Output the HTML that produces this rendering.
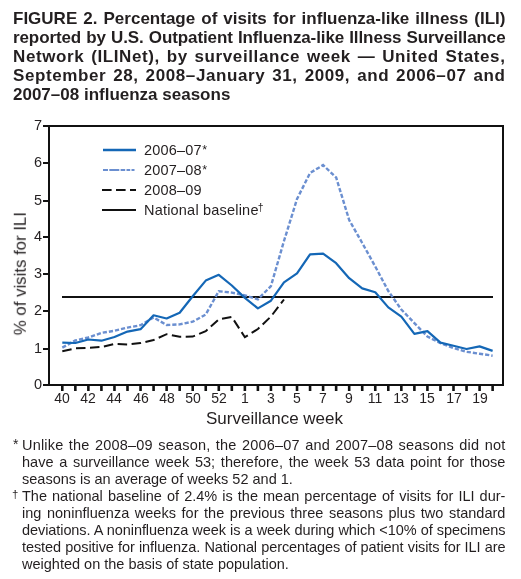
<!DOCTYPE html>
<html><head><meta charset="utf-8"><style>
html,body{margin:0;padding:0;background:#fff;width:521px;height:579px;overflow:hidden}
body{position:relative;font-family:"Liberation Sans",sans-serif;color:#231f20}
.t{position:absolute;white-space:nowrap;will-change:transform}
.ast{font-size:12.5px;position:relative;top:-1.3px;margin-left:0.4px}
.dag{font-size:10.5px;position:relative;top:-4.2px;margin-left:-0.9px}
</style></head><body>
<div class="t" style="left:13px;top:9.13px;font-size:17px;line-height:19.55px;font-weight:bold;width:492.5px;letter-spacing:0px;text-align:justify;text-align-last:justify;">FIGURE 2. Percentage of visits for influenza-like illness (ILI)</div>
<div class="t" style="left:13px;top:27.98px;font-size:17px;line-height:19.55px;font-weight:bold;width:492.5px;letter-spacing:-0.104px;text-align:justify;text-align-last:justify;">reported by U.S. Outpatient Influenza-like Illness Surveillance</div>
<div class="t" style="left:13px;top:46.83px;font-size:17px;line-height:19.55px;font-weight:bold;width:492.5px;letter-spacing:0.6px;text-align:justify;text-align-last:justify;">Network (ILINet), by surveillance week — United States,</div>
<div class="t" style="left:13px;top:65.68px;font-size:17px;line-height:19.55px;font-weight:bold;width:492.5px;letter-spacing:0.6px;text-align:justify;text-align-last:justify;">September 28, 2008–January 31, 2009, and 2006–07 and</div>
<div class="t" style="left:13px;top:84.53px;font-size:17px;line-height:19.55px;font-weight:bold;width:492.5px;letter-spacing:0px;">2007–08 influenza seasons</div>
<div class="t" style="left:21.6px;top:437.24px;font-size:14.5px;line-height:16.67px;font-weight:normal;width:483.4px;letter-spacing:0.2px;text-align:justify;text-align-last:justify;">Unlike the 2008–09 season, the 2006–07 and 2007–08 seasons did not</div>
<div class="t" style="left:21.6px;top:454.24px;font-size:14.5px;line-height:16.67px;font-weight:normal;width:483.4px;letter-spacing:0px;text-align:justify;text-align-last:justify;">have a surveillance week 53; therefore, the week 53 data point for those</div>
<div class="t" style="left:21.6px;top:471.24px;font-size:14.5px;line-height:16.67px;font-weight:normal;width:483.4px;letter-spacing:0px;">seasons is an average of weeks 52 and 1.</div>
<div class="t" style="left:21.6px;top:488.24px;font-size:14.5px;line-height:16.67px;font-weight:normal;width:483.4px;letter-spacing:0px;text-align:justify;text-align-last:justify;">The national baseline of 2.4% is the mean percentage of visits for ILI dur-</div>
<div class="t" style="left:21.6px;top:505.24px;font-size:14.5px;line-height:16.67px;font-weight:normal;width:483.4px;letter-spacing:0px;text-align:justify;text-align-last:justify;">ing noninfluenza weeks for the previous three seasons plus two standard</div>
<div class="t" style="left:21.6px;top:522.24px;font-size:14.5px;line-height:16.67px;font-weight:normal;width:483.4px;letter-spacing:-0.077px;text-align:justify;text-align-last:justify;">deviations. A noninfluenza week is a week during which &lt;10% of specimens</div>
<div class="t" style="left:21.6px;top:539.24px;font-size:14.5px;line-height:16.67px;font-weight:normal;width:483.4px;letter-spacing:-0.073px;text-align:justify;text-align-last:justify;">tested positive for influenza. National percentages of patient visits for ILI are</div>
<div class="t" style="left:21.6px;top:556.24px;font-size:14.5px;line-height:16.67px;font-weight:normal;width:483.4px;letter-spacing:0px;">weighted on the basis of state population.</div>
<div class="t" style="left:13.3px;top:436.40px;font-size:14px;line-height:16.1px;font-weight:normal;">*</div>
<div class="t" style="left:12.0px;top:488.01px;font-size:11.5px;line-height:13.22px;font-weight:normal;">†</div>
<svg width="521" height="579" style="position:absolute;left:0;top:0">
<path d="M49,126 H503 V385 H49 Z" fill="none" stroke="#111" stroke-width="2"/>
<line x1="43" y1="385" x2="49" y2="385" stroke="#111" stroke-width="2"/>
<line x1="43" y1="349" x2="49" y2="349" stroke="#111" stroke-width="2"/>
<line x1="43" y1="311" x2="49" y2="311" stroke="#111" stroke-width="2"/>
<line x1="43" y1="274" x2="49" y2="274" stroke="#111" stroke-width="2"/>
<line x1="43" y1="237" x2="49" y2="237" stroke="#111" stroke-width="2"/>
<line x1="43" y1="201" x2="49" y2="201" stroke="#111" stroke-width="2"/>
<line x1="43" y1="163" x2="49" y2="163" stroke="#111" stroke-width="2"/>
<line x1="43" y1="126" x2="49" y2="126" stroke="#111" stroke-width="2"/>
<line x1="62.30" y1="385" x2="62.30" y2="391" stroke="#111" stroke-width="2.6"/>
<line x1="75.34" y1="385" x2="75.34" y2="391" stroke="#111" stroke-width="2.6"/>
<line x1="88.38" y1="385" x2="88.38" y2="391" stroke="#111" stroke-width="2.6"/>
<line x1="101.42" y1="385" x2="101.42" y2="391" stroke="#111" stroke-width="2.6"/>
<line x1="114.46" y1="385" x2="114.46" y2="391" stroke="#111" stroke-width="2.6"/>
<line x1="127.50" y1="385" x2="127.50" y2="391" stroke="#111" stroke-width="2.6"/>
<line x1="140.54" y1="385" x2="140.54" y2="391" stroke="#111" stroke-width="2.6"/>
<line x1="153.58" y1="385" x2="153.58" y2="391" stroke="#111" stroke-width="2.6"/>
<line x1="166.62" y1="385" x2="166.62" y2="391" stroke="#111" stroke-width="2.6"/>
<line x1="179.66" y1="385" x2="179.66" y2="391" stroke="#111" stroke-width="2.6"/>
<line x1="192.70" y1="385" x2="192.70" y2="391" stroke="#111" stroke-width="2.6"/>
<line x1="205.74" y1="385" x2="205.74" y2="391" stroke="#111" stroke-width="2.6"/>
<line x1="218.78" y1="385" x2="218.78" y2="391" stroke="#111" stroke-width="2.6"/>
<line x1="231.82" y1="385" x2="231.82" y2="391" stroke="#111" stroke-width="2.6"/>
<line x1="244.86" y1="385" x2="244.86" y2="391" stroke="#111" stroke-width="2.6"/>
<line x1="257.90" y1="385" x2="257.90" y2="391" stroke="#111" stroke-width="2.6"/>
<line x1="270.94" y1="385" x2="270.94" y2="391" stroke="#111" stroke-width="2.6"/>
<line x1="283.98" y1="385" x2="283.98" y2="391" stroke="#111" stroke-width="2.6"/>
<line x1="297.02" y1="385" x2="297.02" y2="391" stroke="#111" stroke-width="2.6"/>
<line x1="310.06" y1="385" x2="310.06" y2="391" stroke="#111" stroke-width="2.6"/>
<line x1="323.10" y1="385" x2="323.10" y2="391" stroke="#111" stroke-width="2.6"/>
<line x1="336.14" y1="385" x2="336.14" y2="391" stroke="#111" stroke-width="2.6"/>
<line x1="349.18" y1="385" x2="349.18" y2="391" stroke="#111" stroke-width="2.6"/>
<line x1="362.22" y1="385" x2="362.22" y2="391" stroke="#111" stroke-width="2.6"/>
<line x1="375.26" y1="385" x2="375.26" y2="391" stroke="#111" stroke-width="2.6"/>
<line x1="388.30" y1="385" x2="388.30" y2="391" stroke="#111" stroke-width="2.6"/>
<line x1="401.34" y1="385" x2="401.34" y2="391" stroke="#111" stroke-width="2.6"/>
<line x1="414.38" y1="385" x2="414.38" y2="391" stroke="#111" stroke-width="2.6"/>
<line x1="427.42" y1="385" x2="427.42" y2="391" stroke="#111" stroke-width="2.6"/>
<line x1="440.46" y1="385" x2="440.46" y2="391" stroke="#111" stroke-width="2.6"/>
<line x1="453.50" y1="385" x2="453.50" y2="391" stroke="#111" stroke-width="2.6"/>
<line x1="466.54" y1="385" x2="466.54" y2="391" stroke="#111" stroke-width="2.6"/>
<line x1="479.58" y1="385" x2="479.58" y2="391" stroke="#111" stroke-width="2.6"/>
<line x1="492.62" y1="385" x2="492.62" y2="391" stroke="#111" stroke-width="2.6"/>
<line x1="62" y1="297" x2="493" y2="297" stroke="#111" stroke-width="2"/>
<polyline points="62.30,351.20 75.34,348.40 88.38,347.80 101.42,347.00 114.46,344.00 127.50,344.40 140.54,343.10 153.58,340.00 166.62,334.20 179.66,336.80 192.70,336.60 205.74,331.20 218.78,319.40 231.82,317.00 244.86,337.20 257.90,329.00 270.94,316.50 283.98,299.50" fill="none" stroke="#111" stroke-width="2" stroke-dasharray="9.5,4.5"/>
<polyline points="62.30,347.60 75.34,340.50 88.38,337.50 101.42,332.90 114.46,330.80 127.50,327.60 140.54,325.20 153.58,317.50 166.62,325.00 179.66,324.40 192.70,321.70 205.74,314.50 218.78,291.20 231.82,292.60 244.86,295.30 257.90,299.30 270.94,286.10 283.98,241.00 297.02,199.00 310.06,173.00 323.10,165.10 336.14,177.50 349.18,220.00 362.22,243.00 375.26,266.50 388.30,291.00 401.34,309.50 414.38,323.10 427.42,336.50 440.46,343.20 453.50,348.00 466.54,351.80 479.58,353.70 492.62,355.70" fill="none" stroke="#6b8fd0" stroke-width="2.4" stroke-dasharray="4.2,2"/>
<polyline points="62.30,342.70 75.34,343.00 88.38,339.50 101.42,340.70 114.46,337.00 127.50,331.60 140.54,329.20 153.58,315.30 166.62,318.50 179.66,312.80 192.70,296.30 205.74,280.60 218.78,274.80 231.82,285.50 244.86,297.90 257.90,308.40 270.94,300.70 283.98,282.40 297.02,273.30 310.06,254.30 323.10,253.60 336.14,263.20 349.18,278.20 362.22,288.40 375.26,292.30 388.30,307.40 401.34,316.70 414.38,333.90 427.42,331.10 440.46,342.60 453.50,345.70 466.54,349.00 479.58,346.40 492.62,350.90" fill="none" stroke="#1467b6" stroke-width="2.2" stroke-linejoin="round"/>
<line x1="103" y1="150" x2="136" y2="150" stroke="#1467b6" stroke-width="2.4"/>
<line x1="103" y1="170" x2="136" y2="170" stroke="#6b8fd0" stroke-width="2.2" stroke-dasharray="5,1.3,10,1.3,4.6,1.3,3.7,1.3,3,5"/>
<line x1="102" y1="190" x2="136" y2="190" stroke="#111" stroke-width="2" stroke-dasharray="9.6,4.4"/>
<line x1="102" y1="210" x2="136" y2="210" stroke="#111" stroke-width="2"/>
</svg>
<div class="t" style="left:144.3px;top:141.64px;font-size:14.5px;line-height:16.67px;font-weight:normal;letter-spacing:0.2px;">2006–07<span class='ast'>*</span></div>
<div class="t" style="left:144.3px;top:161.84px;font-size:14.5px;line-height:16.67px;font-weight:normal;letter-spacing:0.2px;">2007–08<span class='ast'>*</span></div>
<div class="t" style="left:144.3px;top:181.84px;font-size:14.5px;line-height:16.67px;font-weight:normal;letter-spacing:0.2px;">2008–09</div>
<div class="t" style="left:144.3px;top:201.64px;font-size:14.5px;line-height:16.67px;font-weight:normal;letter-spacing:0.2px;">National baseline<span class='dag'>†</span></div>
<div class="t" style="left:20px;width:22px;text-align:right;top:376.30px;font-size:14.5px;line-height:17px">0</div>
<div class="t" style="left:20px;width:22px;text-align:right;top:340.30px;font-size:14.5px;line-height:17px">1</div>
<div class="t" style="left:20px;width:22px;text-align:right;top:302.30px;font-size:14.5px;line-height:17px">2</div>
<div class="t" style="left:20px;width:22px;text-align:right;top:265.30px;font-size:14.5px;line-height:17px">3</div>
<div class="t" style="left:20px;width:22px;text-align:right;top:228.30px;font-size:14.5px;line-height:17px">4</div>
<div class="t" style="left:20px;width:22px;text-align:right;top:192.30px;font-size:14.5px;line-height:17px">5</div>
<div class="t" style="left:20px;width:22px;text-align:right;top:154.30px;font-size:14.5px;line-height:17px">6</div>
<div class="t" style="left:20px;width:22px;text-align:right;top:117.30px;font-size:14.5px;line-height:17px">7</div>
<div class="t" style="left:47.30px;width:30px;text-align:center;top:389.65px;font-size:14px;line-height:17px">40</div>
<div class="t" style="left:73.38px;width:30px;text-align:center;top:389.65px;font-size:14px;line-height:17px">42</div>
<div class="t" style="left:99.46px;width:30px;text-align:center;top:389.65px;font-size:14px;line-height:17px">44</div>
<div class="t" style="left:125.54px;width:30px;text-align:center;top:389.65px;font-size:14px;line-height:17px">46</div>
<div class="t" style="left:151.62px;width:30px;text-align:center;top:389.65px;font-size:14px;line-height:17px">48</div>
<div class="t" style="left:177.70px;width:30px;text-align:center;top:389.65px;font-size:14px;line-height:17px">50</div>
<div class="t" style="left:203.78px;width:30px;text-align:center;top:389.65px;font-size:14px;line-height:17px">52</div>
<div class="t" style="left:229.86px;width:30px;text-align:center;top:389.65px;font-size:14px;line-height:17px">1</div>
<div class="t" style="left:255.94px;width:30px;text-align:center;top:389.65px;font-size:14px;line-height:17px">3</div>
<div class="t" style="left:282.02px;width:30px;text-align:center;top:389.65px;font-size:14px;line-height:17px">5</div>
<div class="t" style="left:308.10px;width:30px;text-align:center;top:389.65px;font-size:14px;line-height:17px">7</div>
<div class="t" style="left:334.18px;width:30px;text-align:center;top:389.65px;font-size:14px;line-height:17px">9</div>
<div class="t" style="left:360.26px;width:30px;text-align:center;top:389.65px;font-size:14px;line-height:17px">11</div>
<div class="t" style="left:386.34px;width:30px;text-align:center;top:389.65px;font-size:14px;line-height:17px">13</div>
<div class="t" style="left:412.42px;width:30px;text-align:center;top:389.65px;font-size:14px;line-height:17px">15</div>
<div class="t" style="left:438.50px;width:30px;text-align:center;top:389.65px;font-size:14px;line-height:17px">17</div>
<div class="t" style="left:464.58px;width:30px;text-align:center;top:389.65px;font-size:14px;line-height:17px">19</div>
<div class="t" style="left:206.2px;top:408.83px;font-size:17px;line-height:19.55px;font-weight:normal;">Surveillance week</div>
<div class="t" style="left:0;top:0;font-size:16.8px;line-height:20px;transform-origin:0 0;transform:translate(26.6px,335.2px) rotate(-90deg) translate(0,-15.82px)">% of visits for ILI</div>
</body></html>
